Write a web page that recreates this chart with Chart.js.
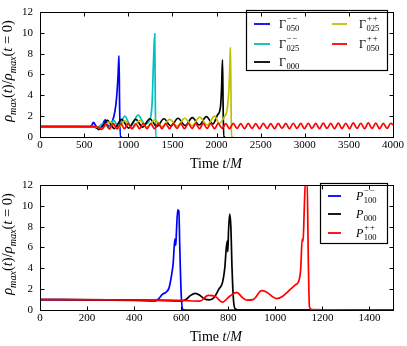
<!DOCTYPE html>
<html lang="pt-br">
<head>
<meta charset="UTF-8" />
<title>rho max</title>
<script src="https://cdn.jsdelivr.net/npm/chart.js"></script>
<style>
  body { margin: 0; background: #fff; }
  .painel { width: 407px; height: 173px; }
</style>
</head>
<body>
  <div class="painel"><canvas id="canvas_grafico_gamma" width="407" height="173"></canvas></div>
  <div class="painel"><canvas id="canvas_grafico_p" width="407" height="173"></canvas></div>
<script>
  // ---- painel de cima: Gamma ----
  var ticks_x_gamma = [0, 500, 1000, 1500, 2000, 2500, 3000, 3500, 4000];
  var ticks_y = [0, 2, 4, 6, 8, 10, 12];

  var t_g050_mm = [0, 300, 560, 585, 605, 630, 665, 700, 740, 780, 820, 850, 870, 885, 895, 902, 910, 930];
  var rho_g050_mm = [1.0, 1.0, 0.98, 1.1, 1.4, 1.1, 0.7, 1.05, 1.65, 1.0, 1.5, 2.5, 4.0, 6.0, 7.8, 3.0, 0.0, 0.0];

  var t_g025_mm = [0, 600, 650, 720, 780, 835, 890, 960, 1030, 1110, 1190, 1240, 1270, 1285, 1300, 1305, 1312, 1330];
  var rho_g025_mm = [1.0, 1.0, 0.95, 1.3, 0.9, 1.6, 0.95, 2.0, 1.05, 2.1, 1.25, 1.6, 3.2, 7.0, 9.9, 5.0, 0.0, 0.0];

  var t_g000 = [0, 600, 680, 764, 844, 924, 1004, 1084, 1164, 1244, 1324, 1404, 1484, 1564, 1645, 1726, 1805, 1885, 1960, 2010, 2045, 2058, 2068, 2075, 2082, 2100];
  var rho_g000 = [1.0, 1.0, 0.75, 1.6, 0.8, 1.7, 0.85, 1.7, 0.95, 1.75, 1.0, 1.75, 1.05, 1.8, 1.1, 1.85, 1.15, 1.95, 1.25, 2.1, 2.9, 4.8, 7.4, 3.0, 0.0, 0.0];

  var t_g025_pp = [0, 620, 700, 790, 875, 960, 1045, 1130, 1215, 1300, 1385, 1470, 1555, 1640, 1725, 1809, 1895, 1979, 2030, 2090, 2120, 2140, 2150, 2157, 2163, 2170, 2190];
  var rho_g025_pp = [1.0, 1.0, 0.8, 1.45, 0.8, 1.55, 0.85, 1.6, 0.95, 1.65, 1.0, 1.7, 1.05, 1.8, 1.1, 1.9, 1.15, 2.0, 1.3, 1.95, 2.6, 4.5, 6.5, 8.6, 5.0, 0.0, 0.0];

  var t_g050_pp = [0, 640, 702, 745, 787, 830, 872, 915, 957, 1000, 1042, 1085, 1127, 1170, 1212, 1255, 1297, 1340,
    1382, 1425, 1467, 1510, 1552, 1595, 1637, 1680, 1722, 1765, 1807, 1850, 1892, 1935, 1977, 2020, 2062, 2105,
    2147, 2190, 2232, 2275, 2317, 2360, 2402, 2445, 2487, 2530, 2572, 2615, 2657, 2700, 2742, 2785, 2827, 2870,
    2912, 2955, 2997, 3040, 3082, 3125, 3167, 3210, 3252, 3295, 3337, 3380, 3422, 3465, 3507, 3550, 3592, 3635,
    3677, 3720, 3762, 3805, 3847, 3890, 3932, 3975, 4000];
  var rho_g050_pp = [1.0, 1.0, 0.72, 1.25, 0.76, 1.3, 0.78, 1.28, 0.8, 1.3, 0.78, 1.27, 0.8, 1.3, 0.79, 1.28, 0.8, 1.3,
    0.8, 1.28, 0.8, 1.3, 0.82, 1.28, 0.8, 1.3, 0.82, 1.28, 0.8, 1.3, 0.82, 1.28, 0.8, 1.3, 0.82, 1.28,
    0.8, 1.3, 0.82, 1.28, 0.81, 1.3, 0.82, 1.28, 0.8, 1.3, 0.82, 1.28, 0.8, 1.3, 0.82, 1.3, 0.8, 1.32,
    0.82, 1.3, 0.8, 1.32, 0.82, 1.3, 0.8, 1.33, 0.82, 1.3, 0.8, 1.33, 0.82, 1.32, 0.8, 1.35, 0.82, 1.32,
    0.8, 1.35, 0.82, 1.33, 0.8, 1.3, 0.82, 1.32, 1.15];

  var sub_gamma = ["050", "025", "000", "025", "050"];
  var sup_gamma = ["\u2212\u2212", "\u2212\u2212", "", "++", "++"];
  var cores_gamma = ["#0000ff", "#00bfbf", "#000000", "#bfbf00", "#ff0000"];

  // ---- painel de baixo: P ----
  var ticks_x_p = [0, 200, 400, 600, 800, 1000, 1200, 1400];

  var t_p100_mm = [0, 200, 400, 490, 505, 520, 535, 548, 558, 566, 573, 577, 580, 585, 590, 594, 600, 607, 620, 1500];
  var rho_p100_mm = [1.0, 0.98, 0.93, 0.88, 1.1, 1.5, 1.7, 2.1, 3.2, 4.5, 6.8, 6.2, 7.6, 9.6, 9.5, 6.0, 1.5, 0.05, 0.0, 0.0];

  var t_p000 = [0, 300, 500, 600, 620, 640, 660, 680, 700, 720, 740, 760, 775, 785, 795, 798, 801, 806, 811, 816, 822, 830, 850, 1500];
  var rho_p000 = [1.0, 0.97, 0.92, 0.87, 1.0, 1.4, 1.6, 1.4, 1.05, 0.97, 1.2, 2.0, 2.6, 4.0, 6.6, 5.6, 7.5, 9.2, 8.0, 4.0, 1.0, 0.1, 0.0, 0.0];

  var t_p100_pp = [0, 300, 500, 600, 680, 714, 745, 775, 805, 836, 860, 880, 905, 942, 960, 1005, 1030, 1060, 1085, 1100, 1108, 1114, 1118, 1122, 1128, 1135, 1140, 1145, 1155, 1500];
  var rho_p100_pp = [1.0, 0.98, 0.95, 0.92, 0.85, 1.4, 1.3, 0.75, 1.3, 1.7, 1.2, 0.95, 1.0, 1.85, 1.75, 1.1, 1.3, 1.9, 2.4, 2.8, 4.0, 6.8, 6.6, 9.0, 12.5, 12.5, 5.0, 0.3, 0.05, 0.0];

  var sub_p = ["100", "000", "100"];
  var sup_p = ["\u2212\u2212", "", "++"];
  var cores_p = ["#0000ff", "#000000", "#ff0000"];

  function fonte(tam, italico) {
    return (italico ? "italic " : "") + tam + 'px "Liberation Serif", serif';
  }

  function pontos(ts, ys) {
    return ts.map(function (t, i) { return { x: t, y: ys[i] }; });
  }

  function serie(nome, ts, ys, cor, ordem) {
    return {
      label: nome,
      data: pontos(ts, ys),
      borderColor: cor,
      backgroundColor: cor,
      borderWidth: 1.7,
      pointRadius: 0,
      cubicInterpolationMode: "monotone",
      fill: false,
      order: ordem,
      clip: 0,
    };
  }

  // trechos: [texto, italico, escala, deslocamento vertical]
  function larguraTrechos(ctx, trechos, tam) {
    var w = 0;
    trechos.forEach(function (tr) {
      ctx.font = fonte(tam * tr[2], tr[1]);
      w += ctx.measureText(tr[0]).width;
    });
    return w;
  }

  function escreverTrechos(ctx, trechos, tam, x, y) {
    var w = 0;
    trechos.forEach(function (tr) {
      ctx.font = fonte(tam * tr[2], tr[1]);
      ctx.fillText(tr[0], x + w, y + tr[3] * tam);
      w += ctx.measureText(tr[0]).width;
    });
  }

  var titulo_y = [["\u03c1", 1, 1, 0], ["max", 1, 0.7, 0.25], ["(", 0, 1, 0], ["t", 1, 1, 0], [")", 0, 1, 0],
    ["/", 0, 1, 0], ["\u03c1", 1, 1, 0], ["max", 1, 0.7, 0.25], ["(", 0, 1, 0], ["t", 1, 1, 0],
    [" = ", 0, 1, 0], ["0", 0, 1, 0], [")", 0, 1, 0]];
  var titulo_x = [["Time ", 0, 1, 0], ["t", 1, 1, 0], ["/", 0, 1, 0], ["M", 1, 1, 0]];

  function criarPluginTextos(legenda) {
    return {
      id: "textos",
      afterDatasetsDraw: function (chart) {
        var ctx = chart.ctx;
        ctx.save();
        ctx.textBaseline = "alphabetic";
        ctx.textAlign = "left";

        // legenda
        var c = legenda.caixa;
        ctx.fillStyle = "#fff";
        ctx.fillRect(c[0], c[1], c[2] - c[0], c[3] - c[1]);
        ctx.strokeStyle = "#000";
        ctx.lineWidth = 1.2;
        ctx.strokeRect(c[0] + 0.5, c[1] + 0.5, c[2] - c[0], c[3] - c[1]);
        legenda.itens.forEach(function (it) {
          ctx.strokeStyle = it.cor;
          ctx.lineWidth = 1.8;
          ctx.beginPath();
          ctx.moveTo(it.x1, it.y);
          ctx.lineTo(it.x2, it.y);
          ctx.stroke();
          ctx.fillStyle = "#000";
          ctx.font = fonte(12, legenda.italico);
          ctx.fillText(legenda.base, it.xt, it.y + 4);
          var w = ctx.measureText(legenda.base).width;
          ctx.font = fonte(8.5, false);
          ctx.fillText(it.sub, it.xt + w + 0.5, it.y + 7);
          // sinais do expoente um a um, com um pequeno espaco
          var xs = it.xt + w + 1;
          it.sup.split("").forEach(function (ch) {
            ctx.fillText(ch, xs, it.y - 3);
            xs += ctx.measureText(ch).width + 1;
          });
        });

        // titulo do eixo y
        ctx.fillStyle = "#000";
        var tamY = 14.5;
        var totalY = larguraTrechos(ctx, titulo_y, tamY);
        ctx.translate(12, 71);
        ctx.rotate(-Math.PI / 2);
        escreverTrechos(ctx, titulo_y, tamY, -totalY / 2, 0);
        ctx.setTransform(1, 0, 0, 1, 0, 0);

        // titulo do eixo x
        var tamX = 14;
        var totalX = larguraTrechos(ctx, titulo_x, tamX);
        escreverTrechos(ctx, titulo_x, tamX, 216 - totalX / 2, 168);
        ctx.restore();
      },
    };
  }

  var moldura = {
    id: "moldura",
    afterDraw: function (chart) {
      var ctx = chart.ctx, a = chart.chartArea;
      var sx = chart.scales.x, sy = chart.scales.y;
      var l = Math.round(a.left) + 0.5, r = Math.round(a.right) + 0.5;
      var t = Math.round(a.top) + 0.5, b = Math.round(a.bottom) + 0.5;
      ctx.save();
      ctx.strokeStyle = "#000";
      ctx.lineWidth = 1;
      ctx.strokeRect(l, t, r - l, b - t);
      ctx.beginPath();
      sx.ticks.forEach(function (tk) {
        var p = Math.round(sx.getPixelForValue(tk.value)) + 0.5;
        ctx.moveTo(p, b); ctx.lineTo(p, b - 4);
        ctx.moveTo(p, t); ctx.lineTo(p, t + 4);
      });
      sy.ticks.forEach(function (tk) {
        var p = Math.round(sy.getPixelForValue(tk.value)) + 0.5;
        ctx.moveTo(l, p); ctx.lineTo(l + 4, p);
        ctx.moveTo(r, p); ctx.lineTo(r - 4, p);
      });
      ctx.stroke();
      ctx.restore();
    },
  };

  function opcoes(xmax, ticksX) {
    return {
      responsive: false,
      animation: false,
      layout: { padding: { left: 0, top: 5, right: 14, bottom: 0 } },
      plugins: { legend: { display: false }, tooltip: { enabled: false } },
      scales: {
        x: {
          type: "linear",
          min: 0,
          max: xmax,
          afterBuildTicks: function (s) { s.ticks = ticksX.map(function (v) { return { value: v }; }); },
          afterFit: function (s) { s.height = 36; },
          grid: { display: false, drawTicks: false },
          border: { display: false },
          ticks: {
            color: "#000", padding: 3, maxRotation: 0,
            callback: function (v) { return String(v); },
            font: { family: "Liberation Serif", size: 11, lineHeight: 0.9 },
          },
        },
        y: {
          min: 0,
          max: 12,
          afterBuildTicks: function (s) { s.ticks = ticks_y.map(function (v) { return { value: v }; }); },
          afterFit: function (s) { s.width = 40; },
          grid: { display: false, drawTicks: false },
          border: { display: false },
          ticks: {
            color: "#000", padding: 7,
            callback: function (v) { return String(v); },
            font: { family: "Liberation Serif", size: 11, lineHeight: 0.9 },
          },
        },
      },
    };
  }

  function criar_grafico_gamma() {
    var nomes = sub_gamma.map(function (s, i) { return "\u0393" + s + sup_gamma[i]; });
    var legenda = {
      caixa: [246, 10, 387, 70],
      base: "\u0393",
      italico: false,
      itens: [
        { cor: cores_gamma[0], sub: sub_gamma[0], sup: sup_gamma[0], x1: 254, x2: 270, xt: 279, y: 24 },
        { cor: cores_gamma[1], sub: sub_gamma[1], sup: sup_gamma[1], x1: 254, x2: 270, xt: 279, y: 44 },
        { cor: cores_gamma[2], sub: sub_gamma[2], sup: sup_gamma[2], x1: 254, x2: 270, xt: 279, y: 62 },
        { cor: cores_gamma[3], sub: sub_gamma[3], sup: sup_gamma[3], x1: 332, x2: 347, xt: 359, y: 24 },
        { cor: cores_gamma[4], sub: sub_gamma[4], sup: sup_gamma[4], x1: 332, x2: 347, xt: 359, y: 44 },
      ],
    };
    new Chart(document.getElementById("canvas_grafico_gamma"), {
      type: "line",
      data: {
        datasets: [
          serie(nomes[0], t_g050_mm, rho_g050_mm, cores_gamma[0], 4),
          serie(nomes[1], t_g025_mm, rho_g025_mm, cores_gamma[1], 3),
          serie(nomes[2], t_g000, rho_g000, cores_gamma[2], 2),
          serie(nomes[3], t_g025_pp, rho_g025_pp, cores_gamma[3], 1),
          serie(nomes[4], t_g050_pp, rho_g050_pp, cores_gamma[4], 0),
        ],
      },
      options: opcoes(4000, ticks_x_gamma),
      plugins: [criarPluginTextos(legenda), moldura],
    });
  }

  function criar_grafico_p() {
    var nomes = sub_p.map(function (s, i) { return "P" + s + sup_p[i]; });
    var legenda = {
      caixa: [320, 10, 387, 70],
      base: "P",
      italico: true,
      itens: [
        { cor: cores_p[0], sub: sub_p[0], sup: sup_p[0], x1: 328, x2: 341, xt: 356, y: 23 },
        { cor: cores_p[1], sub: sub_p[1], sup: sup_p[1], x1: 328, x2: 341, xt: 356, y: 41 },
        { cor: cores_p[2], sub: sub_p[2], sup: sup_p[2], x1: 328, x2: 341, xt: 356, y: 60 },
      ],
    };
    new Chart(document.getElementById("canvas_grafico_p"), {
      type: "line",
      data: {
        datasets: [
          serie(nomes[0], t_p100_mm, rho_p100_mm, cores_p[0], 2),
          serie(nomes[1], t_p000, rho_p000, cores_p[1], 1),
          serie(nomes[2], t_p100_pp, rho_p100_pp, cores_p[2], 0),
        ],
      },
      options: opcoes(1500, ticks_x_p),
      plugins: [criarPluginTextos(legenda), moldura],
    });
  }

  criar_grafico_gamma();
  criar_grafico_p();
</script>
</body>
</html>
